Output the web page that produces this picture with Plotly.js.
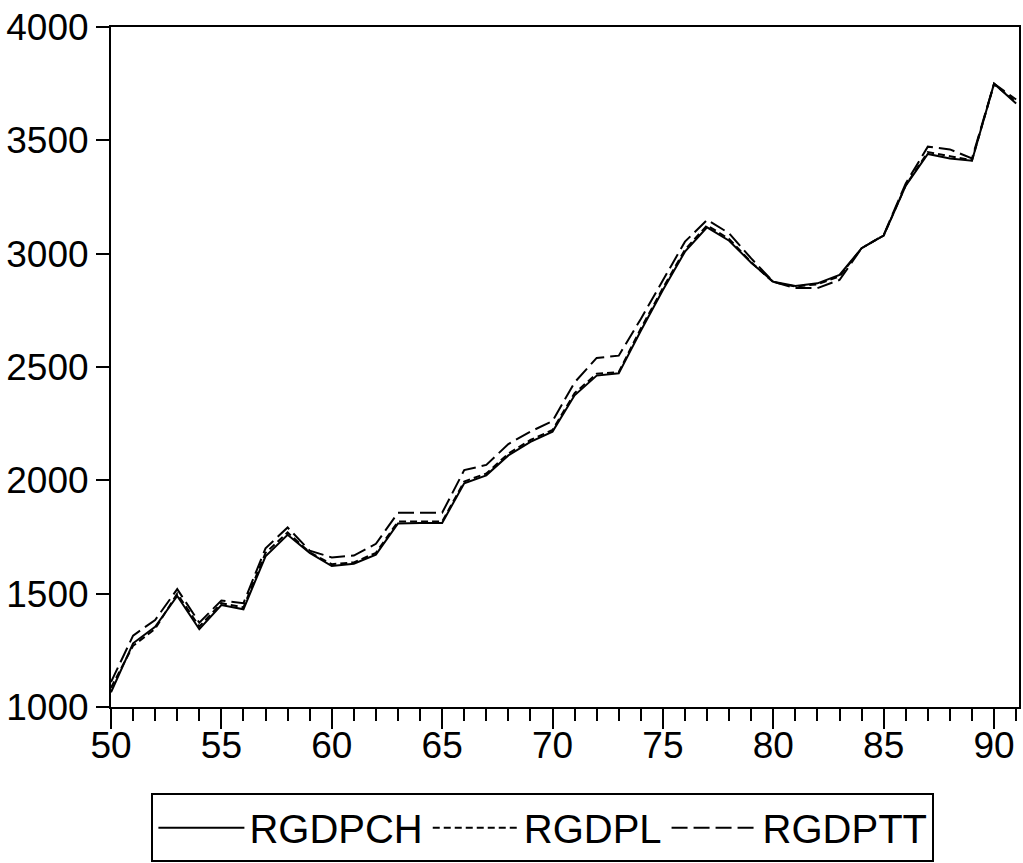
<!DOCTYPE html>
<html>
<head>
<meta charset="utf-8">
<script src="https://cdn.plot.ly/plotly-3.0.1.min.js"></script>
<style>html,body{margin:0;padding:0;background:#fff;}#chart{width:1023px;height:863px;}</style>
</head>
<body>
<div id="chart"></div>
<script>
const years = [50,51,52,53,54,55,56,57,58,59,60,61,62,63,64,65,66,67,68,69,70,
               71,72,73,74,75,76,77,78,79,80,81,82,83,84,85,86,87,88,89,90,91];
const rgdpch = [1065,1281,1354,1490,1343,1450,1431,1665,1760,1680,1622,1632,1672,1810,1812,1812,1987,2022,2110,2170,2215,
                2375,2462,2472,2660,2840,3009,3116,3057,2960,2876,2857,2869,2906,3024,3080,3300,3440,3420,3410,3750,3663];
const rgdpl  = [1085,1270,1345,1500,1355,1458,1440,1680,1770,1682,1630,1638,1680,1818,1818,1818,1995,2030,2118,2178,2222,
                2385,2470,2478,2670,2848,3018,3125,3065,2962,2874,2855,2865,2900,3024,3080,3302,3448,3430,3412,3748,3670];
const rgdptt = [1110,1315,1384,1520,1372,1470,1458,1700,1792,1690,1660,1668,1720,1857,1857,1857,2045,2068,2160,2215,2262,
                2432,2540,2550,2712,2884,3053,3149,3090,2979,2876,2848,2848,2884,3024,3082,3310,3472,3460,3420,3750,3680];
const seriesNames = ["RGDPCH","RGDPL","RGDPTT"];
const xTickVals = [50,55,60,65,70,75,80,85,90];
const xTickText = ["50","55","60","65","70","75","80","85","90"];
const yTickVals = [1000,1500,2000,2500,3000,3500,4000];
const yTickText = ["1000","1500","2000","2500","3000","3500","4000"];

const font = "Liberation Sans, Arial, sans-serif";
const traces = [
  {x: years, y: rgdpch, name: seriesNames[0], type: "scatter", mode: "lines",
   line: {color: "#000", width: 2, dash: "solid"}},
  {x: years, y: rgdpl, name: seriesNames[1], type: "scatter", mode: "lines",
   line: {color: "#000", width: 2, dash: "7px,4px"}},
  {x: years, y: rgdptt, name: seriesNames[2], type: "scatter", mode: "lines",
   line: {color: "#000", width: 2, dash: "16px,6px"}}
];
const layout = {
  width: 1023, height: 863,
  margin: {l: 111, r: 4, t: 27, b: 156, pad: 0, autoexpand: false},
  paper_bgcolor: "#fff", plot_bgcolor: "#fff",
  font: {family: font, size: 37, color: "#000"},
  showlegend: true,
  legend: {
    orientation: "h", xref: "container", x: 0.148, xanchor: "left",
    yref: "container", y: 0.001, yanchor: "bottom",
    bordercolor: "#000", borderwidth: 2, bgcolor: "#fff",
    font: {family: font, size: 40, color: "#000"},
    itemwidth: 86, traceorder: "normal"
  },
  xaxis: {
    range: [50, 91.13], showgrid: false, zeroline: false,
    showline: true, linecolor: "#000", linewidth: 2, mirror: true,
    tickmode: "array", tickvals: xTickVals, ticktext: xTickText,
    ticks: "outside", ticklen: 20, tickwidth: 2, tickcolor: "#000",
    ticklabelstandoff: -15,
    tickfont: {family: font, size: 37, color: "#000"},
    minor: {tickmode: "linear", tick0: 50, dtick: 1, ticks: "outside", ticklen: 12, tickwidth: 2, tickcolor: "#000", showgrid: false}
  },
  yaxis: {
    range: [1000, 4000], showgrid: false, zeroline: false,
    showline: true, linecolor: "#000", linewidth: 2, mirror: true,
    tickmode: "array", tickvals: yTickVals, ticktext: yTickText,
    ticks: "outside", ticklen: 13, tickwidth: 2, tickcolor: "#000",
    tickfont: {family: font, size: 37, color: "#000"}
  }
};
Plotly.newPlot("chart", traces, layout, {displayModeBar: false, staticPlot: true});
</script>
</body>
</html>
